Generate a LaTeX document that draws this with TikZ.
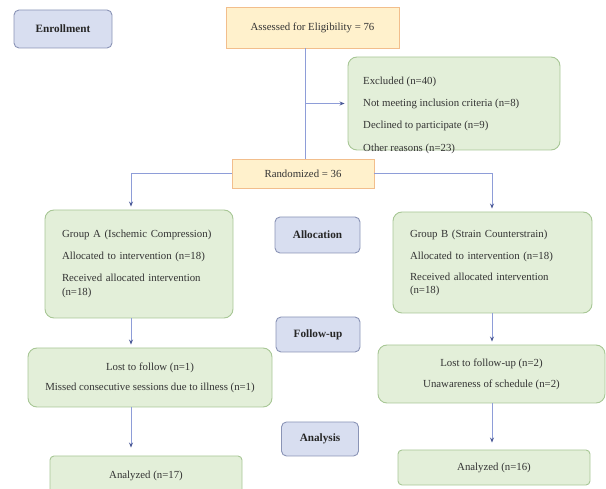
\documentclass[tikz,border=0pt]{standalone}
\usepackage{fontspec}
\setmainfont{Liberation Serif}
\usetikzlibrary{positioning,calc,arrows.meta}

\definecolor{stagefill}{HTML}{D8DEF0}
\definecolor{stageline}{HTML}{8A94B6}
\definecolor{keyfill}{HTML}{FFF1CC}
\definecolor{keyline}{HTML}{F2BE8C}
\definecolor{boxfill}{HTML}{E3EFD9}
\definecolor{boxline}{HTML}{A8C796}
\definecolor{flowline}{HTML}{8E9DD8}
\definecolor{flowtip}{HTML}{4A5896}

\begin{document}
\begin{tikzpicture}[x=1pt,y=-1pt,
    every node/.style={font=\fontsize{10.8pt}{13pt}\selectfont},
    stagebox/.style={draw=stageline, fill=stagefill, rounded corners=5pt, line width=0.9pt,
      font=\fontsize{11.2pt}{13pt}\selectfont\bfseries, inner sep=0pt, text=black!85},
    keybox/.style={draw=keyline, fill=keyfill, line width=0.9pt, inner sep=0pt, text=black!80},
    greenbox/.style={draw=boxline, fill=boxfill, rounded corners=9pt, line width=0.9pt, text=black!80},
    flow/.style={draw=flowline, line width=0.9pt, -{Stealth[length=5pt,width=4pt,color=flowtip]}, shorten >=3pt},
    plain/.style={draw=flowline, line width=0.9pt}]
  \useasboundingbox (0,0) rectangle (606,489);
  % stage labels
  \node[stagebox, minimum width=98pt, minimum height=38pt] (enrol) at (63,29) {Enrollment};
  \node[stagebox, minimum width=85pt, minimum height=36pt] (alloc) at (317.5,235) {Allocation};
  \node[stagebox, minimum width=84pt, minimum height=35pt] (follow) at (318,334.5) {Follow-up};
  \node[stagebox, minimum width=77pt, minimum height=34pt] (analysis) at (320,439) {Analysis};
  % assessment and randomisation
  \node[keybox, minimum width=173pt, minimum height=41pt] (assess) at (312.5,27.5) {Assessed for Eligibility = 76};
  \node[keybox, minimum width=142pt, minimum height=29pt] (rand) at (303,173.5) {Randomized = 36};
  \node[greenbox, minimum width=212pt, minimum height=93pt] (excl) at (454,103.5) {};
  \node[anchor=north west, align=left, inner sep=0pt, text=black!80] (excltext) at (363,77)
    {Excluded (n=40)\\[9pt] Not meeting inclusion criteria (n=8)\\[9pt]
     Declined to participate (n=9)\\[10pt] Other reasons (n=23)};
  % group boxes
  \node[greenbox, minimum width=188pt, minimum height=108pt, inner xsep=17pt, text width=154pt, align=left]
    (grpA) at (139,264) {Group A (Ischemic Compression)\\[9pt] Allocated to intervention (n=18)\\[9pt]
     Received allocated intervention\\[1pt] (n=18)};
  \node[greenbox, minimum width=199pt, minimum height=101pt, inner xsep=17pt, text width=165pt, align=left]
    (grpB) at (492.5,262.5) {Group B (Strain Counterstrain)\\[9pt] Allocated to intervention (n=18)\\[8pt]
     Received allocated intervention\\[0pt] (n=18)};
  \node[greenbox, minimum width=244pt, minimum height=59pt, align=center] (lossA) at (150,377.5)
    {Lost to follow (n=1)\\[7pt] Missed consecutive sessions due to illness (n=1)};
  \node[greenbox, minimum width=227pt, minimum height=58pt, align=center] (lossB) at (491.5,374)
    {Lost to follow-up (n=2)\\[8pt] Unawareness of schedule (n=2)};
  \node[greenbox, rounded corners=4pt, minimum width=192pt, minimum height=40pt] (anaA) at (146,476) {Analyzed (n=17)};
  \node[greenbox, rounded corners=4pt, minimum width=192pt, minimum height=35pt] (anaB) at (494,467.5) {Analyzed (n=16)};
  % columns for the connectors
  \coordinate (colM) at (305,0);
  \coordinate (colA) at (131,0);
  \coordinate (colB) at (492,0);
  % connectors
  \draw[plain] (assess.south -| colM) -- (rand.north -| colM);
  \draw[flow] (colM |- excl.west) -- (excl.west);
  \draw[flow] (rand.west) -| (grpA.north -| colA);
  \draw[flow] (rand.east) -| (grpB.north -| colB);
  \draw[flow] (grpA.south -| colA) -- (lossA.north -| colA);
  \draw[flow] (grpB.south -| colB) -- (lossB.north -| colB);
  \draw[flow] (lossA.south -| colA) -- ($(anaA.north -| colA)+(0,-5)$);
  \draw[flow] (lossB.south -| colB) -- ($(anaB.north -| colB)+(0,-4)$);
\end{tikzpicture}
\end{document}
